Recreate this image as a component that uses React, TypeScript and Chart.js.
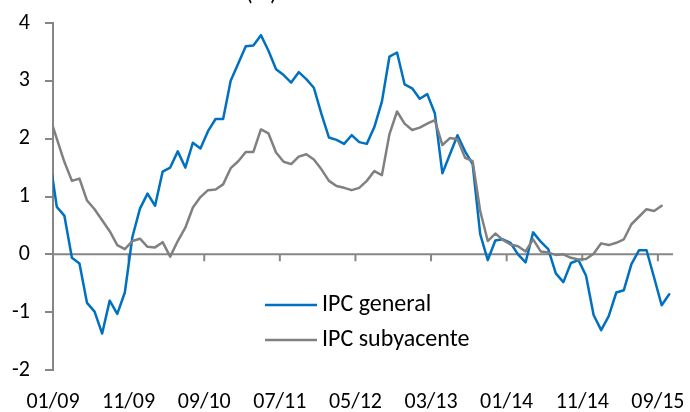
import React, { useEffect, useRef } from "react";
import { Chart, registerables } from "chart.js";

Chart.register(...registerables);

// Months (12/08 is only partly visible: clipped at the left axis)
const months = [
  "12/08",
  "01/09", "02/09", "03/09", "04/09", "05/09", "06/09", "07/09", "08/09", "09/09", "10/09", "11/09", "12/09",
  "01/10", "02/10", "03/10", "04/10", "05/10", "06/10", "07/10", "08/10", "09/10", "10/10", "11/10", "12/10",
  "01/11", "02/11", "03/11", "04/11", "05/11", "06/11", "07/11", "08/11", "09/11", "10/11", "11/11", "12/11",
  "01/12", "02/12", "03/12", "04/12", "05/12", "06/12", "07/12", "08/12", "09/12", "10/12", "11/12", "12/12",
  "01/13", "02/13", "03/13", "04/13", "05/13", "06/13", "07/13", "08/13", "09/13", "10/13", "11/13", "12/13",
  "01/14", "02/14", "03/14", "04/14", "05/14", "06/14", "07/14", "08/14", "09/14", "10/14", "11/14", "12/14",
  "01/15", "02/15", "03/15", "04/15", "05/15", "06/15", "07/15", "08/15", "09/15", "10/15",
];

const tickLabels = ["01/09", "11/09", "09/10", "07/11", "05/12", "03/13", "01/14", "11/14", "09/15"];
const yTicks = [-2, -1, 0, 1, 2, 3, 4];

const ipcGeneral = [
  1.72,
  0.82, 0.67, -0.06, -0.16, -0.84, -0.99, -1.37, -0.80, -1.03, -0.66, 0.30, 0.79,
  1.05, 0.84, 1.43, 1.50, 1.78, 1.50, 1.93, 1.83, 2.13, 2.34, 2.34, 3.00,
  3.30, 3.60, 3.61, 3.79, 3.52, 3.20, 3.10, 2.97, 3.15, 3.03, 2.88, 2.43,
  2.02, 1.98, 1.91, 2.06, 1.94, 1.91, 2.20, 2.64, 3.42, 3.49, 2.94, 2.87,
  2.69, 2.77, 2.44, 1.40, 1.73, 2.06, 1.78, 1.56, 0.35, -0.10, 0.24, 0.26,
  0.20, 0.00, -0.14, 0.38, 0.22, 0.09, -0.33, -0.48, -0.15, -0.10, -0.37, -1.05,
  -1.31, -1.07, -0.66, -0.62, -0.17, 0.07, 0.07, -0.40, -0.88, -0.69,
];

const ipcSubyacente = [
  2.40,
  2.00, 1.60, 1.27, 1.31, 0.93, 0.78, 0.59, 0.40, 0.16, 0.09, 0.23, 0.27,
  0.13, 0.12, 0.21, -0.04, 0.23, 0.46, 0.81, 0.99, 1.11, 1.12, 1.21, 1.49,
  1.61, 1.77, 1.77, 2.16, 2.09, 1.76, 1.60, 1.56, 1.69, 1.73, 1.64, 1.47,
  1.27, 1.18, 1.15, 1.11, 1.15, 1.27, 1.44, 1.37, 2.08, 2.47, 2.26, 2.15,
  2.19, 2.26, 2.32, 1.89, 2.01, 1.99, 1.67, 1.61, 0.75, 0.23, 0.36, 0.25,
  0.17, 0.14, 0.05, 0.26, 0.05, 0.03, -0.01, 0.00, -0.06, -0.09, -0.08, 0.01,
  0.19, 0.16, 0.20, 0.26, 0.52, 0.65, 0.78, 0.75, 0.84, null,
];

const seriesNames = ["IPC general", "IPC subyacente"];
const titleText = "Tasa de variación anual (%)";

const FONT = "Carlito, Lato, 'Open Sans', sans-serif";
const AXIS_COLOR = "#868686";
const BLUE = "#0070C0";
const GRAY = "#808080";

export default function App() {
  const ref = useRef<HTMLCanvasElement | null>(null);

  useEffect(() => {
    if (!ref.current) return;
    // month k (0 = 12/08) is placed mid-month; the axis starts at 01/09's month start
    const toPoints = (vals: (number | null)[]) =>
      vals.map((v, i) => ({ x: i - 0.5, y: v }));

    const zeroAxis = {
      id: "zeroAxis",
      beforeDatasetsDraw(chart: any) {
        const { ctx, chartArea, scales } = chart;
        const y0 = scales.y.getPixelForValue(0);
        ctx.save();
        ctx.strokeStyle = AXIS_COLOR;
        ctx.lineWidth = 2;
        ctx.beginPath();
        ctx.moveTo(chartArea.left, y0);
        ctx.lineTo(chartArea.right, y0);
        scales.x.ticks.forEach((t: any) => {
          const px = scales.x.getPixelForValue(t.value);
          ctx.moveTo(px, y0);
          ctx.lineTo(px, y0 + 7);
        });
        ctx.stroke();
        ctx.restore();
      },
    };

    const legendAndTitle = {
      id: "legendAndTitle",
      afterDraw(chart: any) {
        const { ctx } = chart;
        ctx.save();
        // title, mostly cut off at the very top
        ctx.fillStyle = "#000";
        ctx.font = `24px ${FONT}`;
        ctx.textBaseline = "alphabetic";
        ctx.textAlign = "left";
        ctx.fillText(titleText, 15, 0);
        // legend
        ctx.font = `24px ${FONT}`;
        const rows = [305, 340];
        chart.data.datasets.forEach((ds: any, k: number) => {
          const y = rows[k];
          ctx.strokeStyle = ds.borderColor;
          ctx.lineWidth = 2.5;
          ctx.beginPath();
          ctx.moveTo(265, y);
          ctx.lineTo(317, y);
          ctx.stroke();
          ctx.fillStyle = "#000";
          ctx.textBaseline = "middle";
          ctx.fillText(ds.label, 322, y);
        });
        ctx.restore();
      },
    };

    const chart = new Chart(ref.current, {
      type: "line",
      data: {
        datasets: [
          {
            label: seriesNames[0],
            data: toPoints(ipcGeneral),
            borderColor: BLUE,
            backgroundColor: BLUE,
            borderWidth: 2.5,
            pointRadius: 0,
            tension: 0,
            borderJoinStyle: "round",
            borderCapStyle: "round",
            order: 2,
            clip: { left: 0, right: 3, top: 3, bottom: 3 },
          },
          {
            label: seriesNames[1],
            data: toPoints(ipcSubyacente),
            borderColor: GRAY,
            backgroundColor: GRAY,
            borderWidth: 2.5,
            pointRadius: 0,
            tension: 0,
            borderJoinStyle: "round",
            borderCapStyle: "round",
            order: 1,
            clip: { left: 0, right: 3, top: 3, bottom: 3 },
          },
        ],
      },
      options: {
        responsive: false,
        animation: false,
        layout: { padding: { top: 23, right: 17, left: 0, bottom: 0 } },
        plugins: {
          legend: { display: false },
          tooltip: { enabled: false },
          title: { display: false },
        },
        scales: {
          x: {
            type: "linear",
            min: 0,
            max: months.length - 1,
            afterFit: (s: any) => {
              s.height = 42;
              s.paddingLeft = 0;
              s.paddingRight = 0;
            },
            border: { display: false },
            grid: { display: false, drawTicks: false },
            ticks: {
              stepSize: 10,
              includeBounds: false,
              autoSkip: false,
              maxRotation: 0,
              padding: 19,
              color: "#000",
              font: { family: FONT, size: 22 },
              callback: (v: any) => {
                const k = Math.round(Number(v) / 10);
                return tickLabels[k] ?? "";
              },
            },
          },
          y: {
            min: yTicks[0],
            max: yTicks[yTicks.length - 1],
            afterFit: (s: any) => {
              s.width = 53;
              s.paddingTop = 0;
              s.paddingBottom = 0;
            },
            border: { display: true, color: AXIS_COLOR, width: 2 },
            grid: {
              drawOnChartArea: false,
              drawTicks: true,
              tickLength: 8,
              color: AXIS_COLOR,
              lineWidth: 2,
            },
            ticks: {
              stepSize: 1,
              padding: 15,
              color: "#000",
              font: { family: FONT, size: 22 },
            },
          },
        },
      },
      plugins: [zeroAxis, legendAndTitle],
    });

    return () => chart.destroy();
  }, []);

  return (
    <div style={{ position: "fixed", top: 0, left: 0, width: 690, height: 412 }}>
      <canvas ref={ref} width={690} height={412} style={{ display: "block" }} />
    </div>
  );
}
